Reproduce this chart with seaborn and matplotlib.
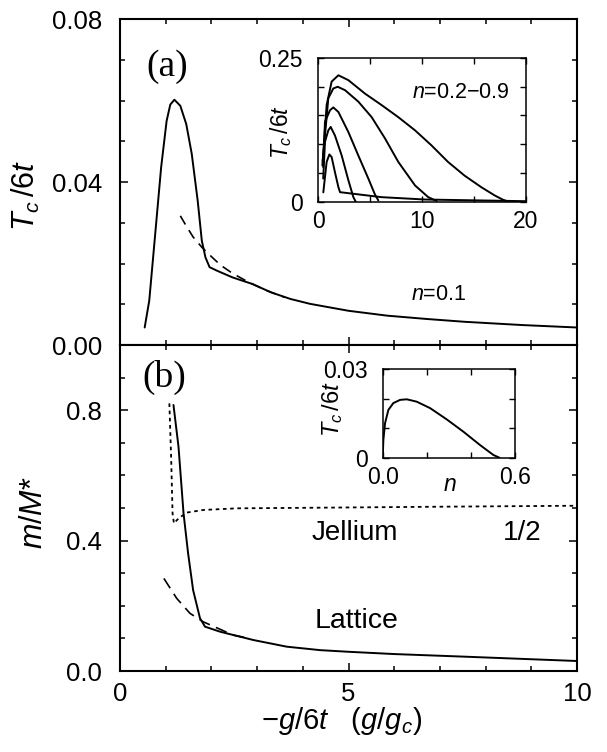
import matplotlib
matplotlib.use('Agg')
import matplotlib.pyplot as plt
import seaborn as sns
from matplotlib.ticker import MultipleLocator, FormatStrFormatter

# (a) Tc/6t vs -g/6t, n=0.1
a_solid_x = [0.54, 0.64, 0.77, 0.90, 1.02, 1.10, 1.19, 1.32, 1.45, 1.57, 1.70, 1.79, 1.87, 1.96,
             2.13, 2.46, 2.89, 3.31, 3.73, 4.16, 5.0, 5.85, 6.7, 7.54, 8.8, 10.0]
a_solid_y = [0.0043, 0.0109, 0.0272, 0.0436, 0.0550, 0.0590, 0.0602, 0.0587, 0.0542, 0.0469, 0.0354,
             0.0256, 0.0215, 0.0191, 0.0182, 0.0166, 0.0150, 0.0129, 0.0113, 0.0101, 0.0084, 0.0072,
             0.0064, 0.0057, 0.0049, 0.0043]
a_dash_x = [1.32, 1.45, 1.60, 1.79, 2.0, 2.2, 2.46, 2.8, 3.2, 3.6]
a_dash_y = [0.0317, 0.0292, 0.0265, 0.0240, 0.0217, 0.0196, 0.0176, 0.0155, 0.0134, 0.0117]

# inset (a): n=0.2-0.9
ia_x = [
    [0.42, 0.83, 1.31, 1.96, 2.92, 4.52, 6.12, 7.72, 9.33, 10.9, 12.5, 14.1, 15.7, 17.0, 17.8, 18.3],
    [0.45, 0.99, 1.47, 1.89, 2.6, 3.88, 5.16, 6.44, 7.72, 9.33, 10.6, 11.4],
    [0.50, 0.67, 1.15, 1.47, 1.96, 2.92, 3.88, 4.84, 5.48, 5.8],
    [0.50, 0.67, 0.99, 1.22, 1.63, 2.28, 2.92, 3.4, 3.62],
    [0.51, 0.83, 1.09, 1.31, 1.63, 1.96, 2.12, 6.12, 10.3, 20.0],
]
ia_y = [
    [0.063, 0.168, 0.209, 0.220, 0.2115, 0.188, 0.168, 0.147, 0.124, 0.098, 0.069, 0.045, 0.025,
     0.0105, 0.003, 0.0],
    [0.070, 0.180, 0.197, 0.200, 0.194, 0.174, 0.147, 0.110, 0.069, 0.028, 0.0076, 0.001],
    [0.060, 0.139, 0.159, 0.164, 0.156, 0.121, 0.080, 0.040, 0.012, 0.002],
    [0.040, 0.104, 0.124, 0.130, 0.115, 0.080, 0.037, 0.0076, 0.0],
    [0.016, 0.069, 0.082, 0.0775, 0.051, 0.025, 0.0163, 0.0076, 0.0035, 0.0006],
]

# (b) m/M* vs -g/6t
b_latt_x = [1.17, 1.28, 1.39, 1.49, 1.60, 1.75, 1.86, 2.19, 2.92, 3.65, 4.38, 5.0, 6.0, 7.54, 10.0]
b_latt_y = [0.816, 0.688, 0.484, 0.361, 0.248, 0.162, 0.136, 0.1206, 0.095, 0.0746, 0.064, 0.059,
            0.052, 0.044, 0.0307]
b_dash_x = [0.96, 1.24, 1.53, 1.82, 2.19, 2.48, 2.8]
b_dash_y = [0.284, 0.223, 0.177, 0.151, 0.128, 0.110, 0.101]
b_jell_x = [1.08, 1.12, 1.15, 1.18, 1.28, 1.46, 1.82, 2.55, 4.38, 7.0, 10.0]
b_jell_y = [0.821, 0.65, 0.484, 0.453, 0.468, 0.486, 0.494, 0.499, 0.501, 0.504, 0.507]

# inset (b): Tc/6t vs n
ib_n = [0, 0.003, 0.0106, 0.0257, 0.048, 0.0786, 0.109, 0.154, 0.215, 0.29, 0.366, 0.441, 0.502, 0.529]
ib_tc = [0, 0.006, 0.0117, 0.0162, 0.0185, 0.0196, 0.0198, 0.019, 0.0168, 0.013, 0.0088, 0.0043,
         0.0009, 0.0]

sns.set_style('ticks')
plt.rcParams['font.family'] = ['Liberation Sans', 'DejaVu Sans']
plt.rcParams['mathtext.fontset'] = 'custom'
plt.rcParams['mathtext.rm'] = 'Liberation Sans'
plt.rcParams['mathtext.it'] = 'Liberation Sans:italic'
plt.rcParams['mathtext.bf'] = 'Liberation Sans:bold'
for key in ['text.color', 'axes.labelcolor', 'xtick.color', 'ytick.color',
            'xtick.labelcolor', 'ytick.labelcolor', 'axes.edgecolor']:
    plt.rcParams[key] = 'black'

fig = plt.figure(figsize=(6.07, 7.52), dpi=100)
ax_a = fig.add_axes([0.1977, 0.5412, 0.7529, 0.4335])
ax_b = fig.add_axes([0.1977, 0.1077, 0.7529, 0.4335])
ins_a = fig.add_axes([0.5239, 0.7320, 0.3427, 0.1908])
ins_b = fig.add_axes([0.6305, 0.3914, 0.2180, 0.1176])

lw = 1.4
kw = dict(color='black', sort=False, estimator=None)

sns.lineplot(x=a_solid_x, y=a_solid_y, ax=ax_a, lw=lw, **kw)
sns.lineplot(x=a_dash_x, y=a_dash_y, ax=ax_a, lw=1.2, linestyle=(0, (6, 4)), **kw)
for xs, ys in zip(ia_x, ia_y):
    sns.lineplot(x=xs, y=ys, ax=ins_a, lw=1.4, **kw)

sns.lineplot(x=b_latt_x, y=b_latt_y, ax=ax_b, lw=lw, **kw)
sns.lineplot(x=b_dash_x, y=b_dash_y, ax=ax_b, lw=1.2, linestyle=(0, (7, 4)), **kw)
sns.lineplot(x=b_jell_x, y=b_jell_y, ax=ax_b, lw=1.3, linestyle=(0, (2, 2)), **kw)
sns.lineplot(x=ib_n, y=ib_tc, ax=ins_b, lw=1.4, **kw)

for ax in (ax_a, ax_b):
    ax.set_xlim(0, 10)
    ax.xaxis.set_major_locator(MultipleLocator(5))
    ax.xaxis.set_minor_locator(MultipleLocator(1))
    ax.tick_params(which='both', direction='in', top=True, right=True, width=1.1,
                   labelsize=18.5, color='black')
    ax.tick_params(which='major', length=6)
    ax.tick_params(which='minor', length=3.8)
    ax.tick_params(axis='y', pad=13)
    ax.tick_params(axis='x', pad=8)
    for s in ax.spines.values():
        s.set_linewidth(1.5)
        s.set_color('black')

ax_a.set_ylim(0, 0.08)
ax_a.yaxis.set_major_locator(MultipleLocator(0.04))
ax_a.yaxis.set_minor_locator(MultipleLocator(0.01))
ax_a.yaxis.set_major_formatter(FormatStrFormatter('%.2f'))
ax_a.tick_params(labelbottom=False)
ax_a.set_ylabel(r'$T_c\,/\mathrm{6}t$', fontsize=22)
ax_a.yaxis.set_label_coords(-0.17, 0.46)

ax_b.set_ylim(0, 1.0)
ax_b.set_yticks([0, 0.4, 0.8])
ax_b.yaxis.set_minor_locator(MultipleLocator(0.1))
ax_b.yaxis.set_major_formatter(FormatStrFormatter('%.1f'))
ax_b.set_ylabel(r'$m/M$*', fontsize=22)
ax_b.yaxis.set_label_coords(-0.155, 0.485)
ax_b.set_xlabel(r'$-g/\mathrm{6}t\ \ \ (g/g_c)$', fontsize=21)
ax_b.xaxis.set_label_coords(0.484, -0.105)

for ax in (ins_a, ins_b):
    ax.tick_params(which='both', direction='in', top=True, right=True, width=1.0,
                   labelsize=16.5, color='black')
    ax.tick_params(which='major', length=4.5)
    ax.tick_params(which='minor', length=4.5)
    ax.tick_params(axis='y', pad=11)
    ax.tick_params(axis='x', pad=6)
    for s in ax.spines.values():
        s.set_linewidth(1.1)
        s.set_color('black')

ins_a.set_xlim(0, 20)
ins_a.set_ylim(0, 0.25)
ins_a.set_xticks([0, 10, 20])
ins_a.xaxis.set_minor_locator(MultipleLocator(5))
ins_a.set_yticks([0, 0.25])
ins_a.set_yticklabels(['0', '0.25'])
ins_a.yaxis.set_minor_locator(MultipleLocator(0.05))
ins_a.set_ylabel(r'$T_c\,/\mathrm{6}t$', fontsize=16.5)
ins_a.yaxis.set_label_coords(-0.115, 0.484)

ins_b.set_xlim(0, 0.6)
ins_b.set_ylim(0, 0.03)
ins_b.set_xticks([0, 0.6])
ins_b.set_xticklabels(['0.0', '0.6'])
ins_b.xaxis.set_minor_locator(MultipleLocator(0.2))
ins_b.set_yticks([0, 0.03])
ins_b.set_yticklabels(['0', '0.03'])
ins_b.yaxis.set_minor_locator(MultipleLocator(0.01))
ins_b.set_ylabel(r'$T_c\,/\mathrm{6}t$', fontsize=17)
ins_b.yaxis.set_label_coords(-0.285, 0.55)
ins_b.set_xlabel(r'$n$', fontsize=16.5)
ins_b.xaxis.set_label_coords(0.509, -0.17)

ax_a.text(0.103, 0.855, '(a)', transform=ax_a.transAxes, fontsize=27,
          family='Liberation Serif', ha='center', va='center')
ax_b.text(0.096, 0.902, '(b)', transform=ax_b.transAxes, fontsize=27,
          family='Liberation Serif', ha='center', va='center')
ax_a.text(6.37, 0.0123, r'$n$=0.1', fontsize=15.5, ha='left', va='center')
ins_a.text(9.0, 0.19, r'$n$=0.2$-$0.9', fontsize=15.5, ha='left', va='center')
ax_b.text(4.2, 0.423, 'Jellium', fontsize=20, ha='left', va='center')
ax_b.text(8.38, 0.423, '1/2', fontsize=20, ha='left', va='center')
ax_b.text(4.25, 0.152, 'Lattice', fontsize=20.5, ha='left', va='center')

fig.savefig('out.png', dpi=100)
